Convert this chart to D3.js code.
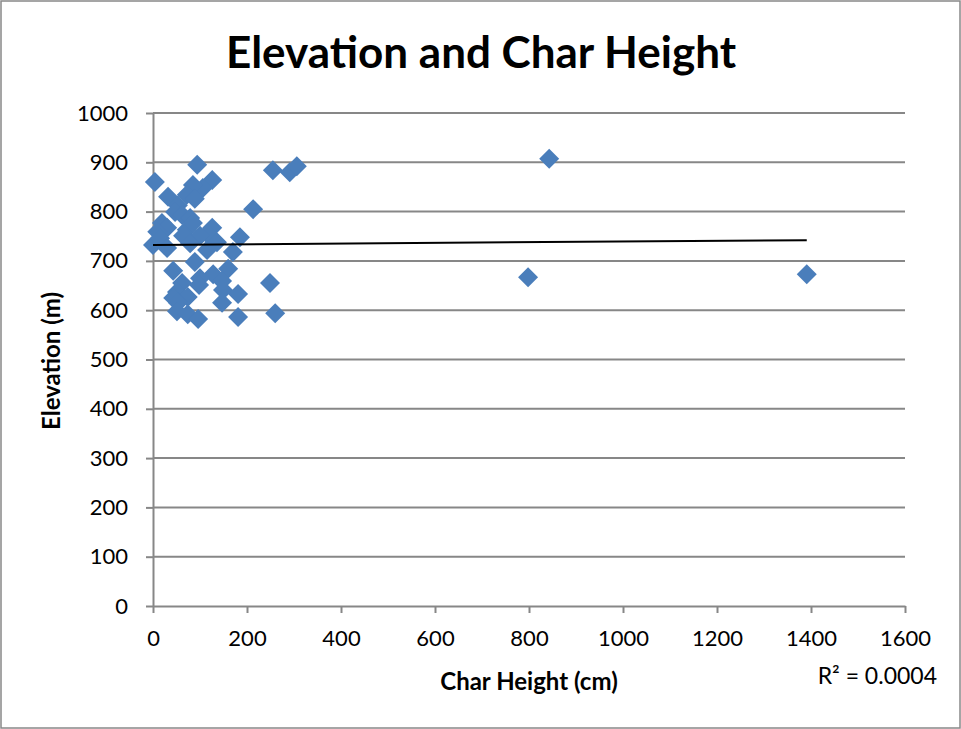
<!DOCTYPE html>
<html>
<head>
<meta charset="utf-8">
<script src="https://cdn.jsdelivr.net/npm/d3@7"></script>
<style>
  body { margin: 0; background: #fff; }
  text { font-family: Lato, "Open Sans", sans-serif; fill: #000; }
</style>
</head>
<body>
<div id="chart"></div>
<script>
// Char height (cm) and elevation (m)
const charHeight = [
  4, 94, 126, 106, 85, 32, 72, 89, 53, 47, 62, 79, 19, 30, 9, 126, 115, 72, 100, 85,
  213, 255, 291, 306,
  0, 15, 30, 64, 79, 115, 136, 185, 170, 89, 43, 160, 128, 100, 62, 147, 249, 98,
  51, 149, 181, 43, 74, 147, 53, 51, 74, 96, 181, 260,
  843, 798, 1391
];
const elevation = [
  860, 895, 864, 848, 854, 830, 834, 826, 813, 799, 793, 787, 777, 767, 759, 767, 755, 763, 751, 777,
  805, 884, 880, 892,
  732, 746, 726, 751, 736, 722, 738, 748, 718, 698, 680, 684, 673, 665, 655, 659, 655, 651,
  637, 641, 633, 625, 627, 615, 615, 598, 592, 582, 586, 594,
  907, 667, 673
];
const xTicks = [0, 200, 400, 600, 800, 1000, 1200, 1400, 1600];
const yTicks = [0, 100, 200, 300, 400, 500, 600, 700, 800, 900, 1000];

const width = 961, height = 729;
const plot = { left: 153, right: 905, top: 113, bottom: 606 };

const svg = d3.select('#chart').append('svg')
  .attr('width', width)
  .attr('height', height);

// chart border
svg.append('rect')
  .attr('x', 1).attr('y', 1)
  .attr('width', width - 2).attr('height', height - 2)
  .attr('fill', '#fff')
  .attr('stroke', '#888')
  .attr('stroke-width', 1.5);

const x = d3.scaleLinear().domain([0, 1600]).range([plot.left, plot.right]);
const y = d3.scaleLinear().domain([0, 1000]).range([plot.bottom, plot.top]);

// gridlines
svg.append('g')
  .selectAll('line')
  .data(yTicks.filter(d => d > 0))
  .join('line')
  .attr('x1', plot.left).attr('x2', plot.right)
  .attr('y1', d => y(d)).attr('y2', d => y(d))
  .attr('stroke', '#878787')
  .attr('stroke-width', 2);

// axes
const yAxis = svg.append('g')
  .attr('transform', `translate(${plot.left},0)`)
  .call(d3.axisLeft(y).tickValues(yTicks).tickFormat(d3.format('d'))
    .tickSize(7).tickPadding(18).tickSizeOuter(0));
const xAxis = svg.append('g')
  .attr('transform', `translate(0,${plot.bottom})`)
  .call(d3.axisBottom(x).tickValues(xTicks).tickFormat(d3.format('d'))
    .tickSize(7).tickPadding(17).tickSizeOuter(0));

[yAxis, xAxis].forEach(g => {
  g.select('.domain').attr('stroke', '#878787').attr('stroke-width', 2);
  g.selectAll('.tick line').attr('stroke', '#878787').attr('stroke-width', 2);
  g.selectAll('.tick text')
    .style('font-family', 'Lato, "Open Sans", sans-serif')
    .style('font-size', '22px')
    .attr('fill', '#000');
});

// linear trend line (least squares)
const n = charHeight.length;
const mx = d3.mean(charHeight), my = d3.mean(elevation);
let sxy = 0, sxx = 0;
for (let i = 0; i < n; i++) {
  sxy += (charHeight[i] - mx) * (elevation[i] - my);
  sxx += (charHeight[i] - mx) ** 2;
}
const slope = sxy / sxx, intercept = my - slope * mx;
const xExt = d3.extent(charHeight);

// points
const diamond = d3.symbol(d3.symbolSquare, 200);
svg.append('g')
  .selectAll('path')
  .data(d3.range(n))
  .join('path')
  .attr('d', diamond)
  .attr('transform', i => `translate(${x(charHeight[i])},${y(elevation[i])}) rotate(45)`)
  .attr('fill', '#4a7ebb');

svg.append('line')
  .attr('x1', x(xExt[0])).attr('y1', y(intercept + slope * xExt[0]))
  .attr('x2', x(xExt[1])).attr('y2', y(intercept + slope * xExt[1]))
  .attr('stroke', '#000')
  .attr('stroke-width', 2);

// titles
svg.append('text')
  .attr('x', 481).attr('y', 68)
  .attr('text-anchor', 'middle')
  .style('font-size', '44px')
  .style('font-weight', 'bold')
  .text('Elevation and Char Height');

svg.append('text')
  .attr('x', 529).attr('y', 690)
  .attr('text-anchor', 'middle')
  .style('font-size', '24px')
  .style('font-weight', 'bold')
  .text('Char Height (cm)');

svg.append('text')
  .attr('transform', 'translate(60,361) rotate(-90)')
  .attr('text-anchor', 'middle')
  .style('font-size', '24px')
  .style('font-weight', 'bold')
  .text('Elevation (m)');

svg.append('text')
  .attr('x', 937).attr('y', 684)
  .attr('text-anchor', 'end')
  .style('font-size', '23px')
  .text('R² = 0.0004');
</script>
</body>
</html>
